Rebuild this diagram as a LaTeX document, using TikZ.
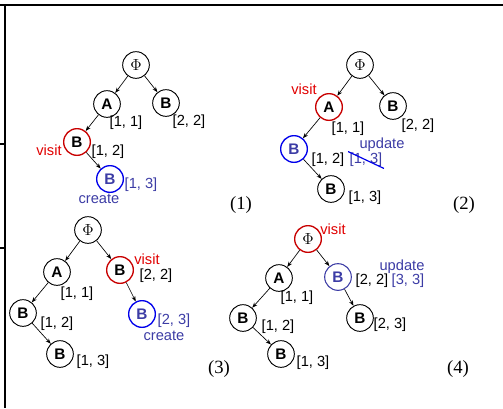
\documentclass[tikz,border=0pt]{standalone}
\usepackage{fontspec}
\setmainfont{Liberation Serif}
\setsansfont{Liberation Sans}
\usetikzlibrary{arrows.meta}
\definecolor{visitred}{RGB}{225,0,0}
\definecolor{ringred}{RGB}{200,0,0}
\definecolor{ringblue}{RGB}{0,0,235}
\definecolor{slate}{RGB}{60,60,165}
\tikzset{
    tnode/.style={circle, draw, line width=0.7pt, minimum size=20pt,
                  inner sep=0pt, font=\fontsize{11.5}{12}\sffamily\bfseries},
    visited/.style={tnode, draw=ringred, line width=1pt},
    created/.style={tnode, draw=ringblue, text=slate, line width=1pt},
    updated/.style={tnode, draw=slate, text=slate, line width=0.8pt},
    rootnode/.style={tnode, font=\fontsize{13}{14}\rmfamily},
    lbl/.style={inner sep=1pt, font=\fontsize{11}{12}\sffamily},
    note/.style={lbl},
    edge/.style={-{Stealth[length=4pt, width=3pt]}, line width=0.5pt},
    caption/.style={font=\fontsize{14}{16}\rmfamily},
    frame/.style={line width=1.5pt},
}
\newcommand{\treeedges}[1]{
    \foreach \from/\to in {#1} \draw[edge] (\from) -- (\to);
}

\begin{document}
\begin{tikzpicture}[x=0.75pt, y=-0.75pt]
    \useasboundingbox (0,0) rectangle (503,408);

    % frame
    \draw[frame] (0,5) -- (503,5);
    \draw[frame] (5,5) -- (5,408);
    \draw[frame] (0,144) -- (5,144);
    \draw[frame] (0,248) -- (5,248);

    % (1)
    \node[rootnode] (p1root) at (136,65) {$\Phi$};
    \node[tnode] (p1a) at (107,104) {A};
    \node[tnode] (p1b) at (166,103) {B};
    \node[visited] (p1ab) at (77,142) {B};
    \node[created] (p1abb) at (110,179) {B};
    \treeedges{p1root/p1a, p1root/p1b, p1a/p1ab, p1ab/p1abb}
    \node[lbl] at (126,123) {[1, 1]};
    \node[lbl] at (189,122) {[2, 2]};
    \node[lbl] at (108,152) {[1, 2]};
    \node[lbl, text=slate] at (141,185) {[1, 3]};
    \node[note, text=visitred] at (49,150) {visit};
    \node[note, text=slate] at (99,199) {create};
    \node[caption] at (241,205) {(1)};

    % (2)
    \node[rootnode] (p2root) at (360,65) {$\Phi$};
    \node[visited] (p2a) at (329,107) {A};
    \node[tnode] (p2b) at (393,106) {B};
    \node[created] (p2ab) at (294,149) {B};
    \node[tnode] (p2abb) at (331,189) {B};
    \treeedges{p2root/p2a, p2root/p2b, p2a/p2ab, p2ab/p2abb}
    \node[note, text=visitred] at (304,89) {visit};
    \node[lbl] at (348,129) {[1, 1]};
    \node[lbl] at (418,126) {[2, 2]};
    \node[lbl] at (328,160) {[1, 2]};
    \node[lbl, text=slate] (p2old) at (366,160) {[1, 3]};
    \draw[ringblue, line width=0.9pt] (p2old.north west) -- (p2old.south east);
    \node[note, text=slate] at (382,145) {update};
    \node[lbl] at (365,198) {[1, 3]};
    \node[caption] at (464,205) {(2)};

    % (3)
    \node[rootnode] (p3root) at (88,230) {$\Phi$};
    \node[tnode] (p3a) at (57,272) {A};
    \node[visited] (p3b) at (120,270) {B};
    \node[tnode] (p3ab) at (23,313) {B};
    \node[tnode] (p3abb) at (60,354) {B};
    \node[created] (p3bb) at (142,314) {B};
    \treeedges{p3root/p3a, p3root/p3b, p3a/p3ab, p3ab/p3abb, p3b/p3bb}
    \node[note, text=visitred] at (147,259) {visit};
    \node[lbl] at (156,276) {[2, 2]};
    \node[lbl] at (77,294) {[1, 1]};
    \node[lbl] at (57,324) {[1, 2]};
    \node[lbl] at (93,362) {[1, 3]};
    \node[lbl, text=slate] at (174,321) {[2, 3]};
    \node[note, text=slate] at (164,336) {create};
    \node[caption] at (219,369) {(3)};

    % (4)
    \node[visited, font=\fontsize{13}{14}\rmfamily] (p4root) at (308,239) {$\Phi$};
    \node[tnode] (p4a) at (279,278) {A};
    \node[updated] (p4b) at (338,277) {B};
    \node[tnode] (p4ab) at (243,318) {B};
    \node[tnode] (p4abb) at (281,354) {B};
    \node[tnode] (p4bb) at (360,318) {B};
    \treeedges{p4root/p4a, p4root/p4b, p4a/p4ab, p4ab/p4abb, p4b/p4bb}
    \node[note, text=visitred] at (333,229) {visit};
    \node[note, text=slate] at (402,267) {update};
    \node[lbl] at (372,281) {[2, 2]};
    \node[lbl, text=slate] at (408,281) {[3, 3]};
    \node[lbl] at (297,298) {[1, 1]};
    \node[lbl] at (278,327) {[1, 2]};
    \node[lbl] at (390,325) {[2, 3]};
    \node[lbl] at (313,363) {[1, 3]};
    \node[caption] at (458,369) {(4)};

\end{tikzpicture}
\end{document}
